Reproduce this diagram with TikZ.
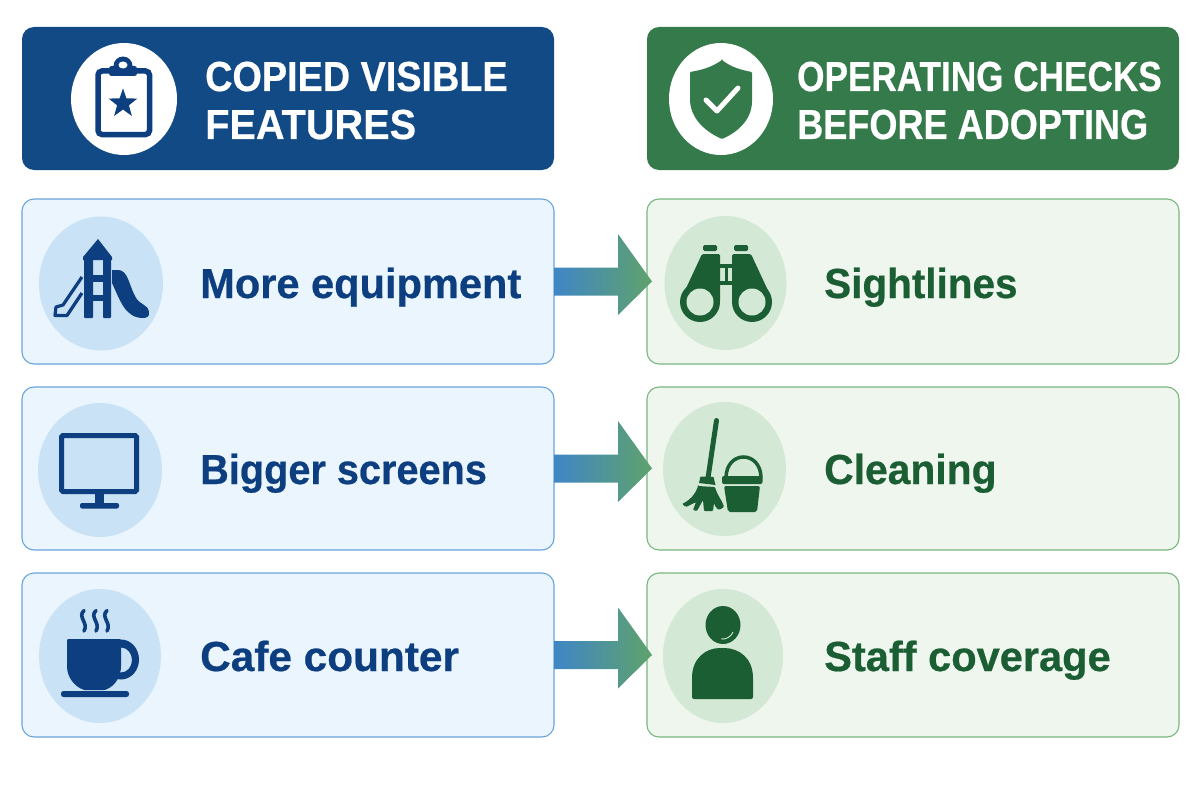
\documentclass[tikz,border=0pt]{standalone}
\usepackage{fontspec}
\setmainfont{Liberation Sans}[FakeStretch=0.9,BoldFeatures={FakeBold=0.5}]
\usetikzlibrary{calc}
\definecolor{hblue}{HTML}{124A86}
\definecolor{hgreen}{HTML}{357A4A}
\definecolor{rowblue}{HTML}{EBF5FD}
\definecolor{rowgreen}{HTML}{EEF6EE}
\definecolor{edgeblue}{HTML}{69A5DC}
\definecolor{edgegreen}{HTML}{79B67F}
\definecolor{discblue}{HTML}{C9E2F5}
\definecolor{discgreen}{HTML}{D3E8D5}
\definecolor{inkblue}{HTML}{0D3F80}
\definecolor{inkgreen}{HTML}{1C5E34}
\definecolor{arrowa}{HTML}{3F86C6}
\definecolor{arrowb}{HTML}{5FA26C}
\tikzset{
  panel/.style={rectangle,rounded corners=12pt,minimum width=532pt,inner sep=0pt,outer sep=0pt},
  headblue/.style={panel,fill=hblue,minimum height=143pt},
  headgreen/.style={panel,fill=hgreen,minimum height=143pt},
  rowa/.style={panel,fill=rowblue,draw=edgeblue,line width=1.1pt},
  rowb/.style={panel,fill=rowgreen,draw=edgegreen,line width=1.1pt},
  headtext/.style={anchor=base west,inner sep=0pt,text=white,font=\bfseries\fontsize{42}{42}\selectfont},
  labela/.style={anchor=base west,inner sep=0pt,text=inkblue,font=\bfseries\fontsize{42}{42}\selectfont},
  labelb/.style={anchor=base west,inner sep=0pt,text=inkgreen,font=\bfseries\fontsize{42}{42}\selectfont},
  flow/.style={left color=arrowa,right color=arrowb,shading angle=90},
}
\newcommand{\flowarrow}[2]{%
  \path[flow] ([yshift=14pt]#1.east) -- ++(64pt,0) -- ++(0,33.5pt)
    -- ($(#2.west)+(5pt,0)$) -- ($(#1.east)+(64pt,-33.5pt)$) -- ++(0,19.5pt) -- ([yshift=-14pt]#1.east) -- cycle;}
\begin{document}
\begin{tikzpicture}[x=1pt,y=-1pt]
\useasboundingbox (0,0) rectangle (1200,800);
\fill[white] (0,0) rectangle (1200,800);
% headers
\node[headblue] (h1) at (288,98.5) {};
\node[headgreen] (h2) at (913,98.5) {};
\fill[white] (124,99) ellipse [x radius=53,y radius=56];
\fill[white] (721,99) ellipse [x radius=52,y radius=56];
\node[headtext] (h1a) at (205,91) {COPIED VISIBLE};
\node[headtext,xscale=1.05] (h1b) at (205,139) {FEATURES};
\node[headtext,xscale=.93] (h2a) at (797,91) {OPERATING CHECKS};
\node[headtext,xscale=.955] (h2b) at (797,139) {BEFORE ADOPTING};
% rows
\node[rowa,minimum height=165pt] (a1) at (288,281.5) {};
\node[rowa,minimum height=163pt] (a2) at (288,468.5) {};
\node[rowa,minimum height=164pt] (a3) at (288,655) {};
\node[rowb,minimum height=165pt] (b1) at (913,281.5) {};
\node[rowb,minimum height=163pt] (b2) at (913,468.5) {};
\node[rowb,minimum height=164pt] (b3) at (913,655) {};
\fill[discblue] (101,283.5) ellipse [x radius=62,y radius=67];
\fill[discblue] (100,470) ellipse [x radius=62,y radius=67];
\fill[discblue] (100,656) ellipse [x radius=61,y radius=67];
\fill[discgreen] (725.5,283) ellipse [x radius=61,y radius=67];
\fill[discgreen] (724.5,469) ellipse [x radius=61.5,y radius=67];
\fill[discgreen] (723,656) ellipse [x radius=60,y radius=67];
\node[labela,xscale=1.10] (t1) at (200,298) {More equipment};
\node[labela,xscale=1.05] (t2) at (200,484) {Bigger screens};
\node[labela,xscale=1.12] (t3) at (200,671) {Cafe counter};
\node[labelb,xscale=1.07] (u1) at (824,298) {Sightlines};
\node[labelb,xscale=1.08] (u2) at (824,484) {Cleaning};
\node[labelb,xscale=1.10] (u3) at (824,671) {Staff coverage};
% connectors
\flowarrow{a1}{b1}
\flowarrow{a2}{b2}
\flowarrow{a3}{b3}
% clipboard
\draw[inkblue,line width=5.5pt,rounded corners=4pt] (98,71) rectangle (149.5,134.5);
\fill[inkblue,rounded corners=2.5pt] (109,76) -- (109,66) -- (137,66) -- (137,76) -- cycle;
\fill[inkblue] (123,66) circle [radius=9.5];
\fill[white] (123,65) ellipse [x radius=4.5,y radius=3.5];
\fill[inkblue] (123,88.5) -- (126.4,98.3) -- (137.3,98.6) -- (128.9,105.3) -- (131.9,116) -- (123,109.5) -- (114.1,116) -- (117.1,105.3) -- (108.7,98.6) -- (119.6,98.3) -- cycle;
% playground
\fill[inkblue] (83,257) -- (98,239) -- (112,257) -- (112,260) -- (83,260) -- cycle;
\fill[inkblue,rounded corners=1pt] (84,258) rectangle (93,318);
\fill[inkblue,rounded corners=1pt] (103,258) rectangle (111,318);
\fill[inkblue] (93,275) rectangle (103,282);
\fill[inkblue] (93,295) rectangle (103,301);
\fill[inkblue] (112,270) -- (118,270) .. controls (128,270) and (129,285) .. (135,296) .. controls (139,305) and (148,304) .. (149,312) .. controls (150,317) and (146,318) .. (143,318) .. controls (125,318) and (120,300) .. (112,283) -- cycle;
\draw[inkblue,line width=3.2pt,line join=round] (82,277) -- (63,305) -- (56,307) -- (55,315.5) -- (67,315.5) -- (82,293);
% monitor
\draw[inkblue,line width=5pt,rounded corners=1.5pt] (61.5,435.5) rectangle (136.5,491.5);
\fill[inkblue] (95,494) rectangle (104,504);
\fill[inkblue,rounded corners=2pt] (80,503) rectangle (119,508.5);
% cup
\fill[inkblue,even odd rule] (121,659.5) ellipse [x radius=18,y radius=20] (121,660) ellipse [x radius=11,y radius=12.5];
\fill[inkblue,rounded corners=1pt] (67,639) -- (67,665) .. controls (67,677) and (74,686) .. (84,690) -- (105,690) .. controls (115,686) and (121,677) .. (121,665) -- (121,639) -- cycle;
\fill[inkblue,rounded corners=2.5pt] (61,691) rectangle (129,697);
\foreach \sx in {83,95,106}
  \draw[inkblue,line width=3.6pt,line cap=round] (\sx+1,610.5) .. controls (\sx-6,617) and (\sx+6,623) .. (\sx+1,631);
% shield
\fill[hgreen,rounded corners=1pt] (722,60) .. controls (712,67) and (702,70) .. (690,72) -- (690,100) .. controls (691,118) and (704,131) .. (722,139) .. controls (740,131) and (752,118) .. (752,100) -- (752,72) .. controls (741,70) and (731,67) .. (722,60) -- cycle;
\draw[white,line width=5pt,line cap=round,line join=round] (706,100) -- (717,111) -- (738,88);
% binoculars
\fill[inkgreen,rounded corners=1.5pt] (703,245) rectangle (717,251);
\fill[inkgreen,rounded corners=1.5pt] (734,245) rectangle (748,251);
\fill[inkgreen,rounded corners=1.5pt] (702,254) -- (720,254) -- (720,302) -- (682,302) -- (682,297) -- cycle;
\fill[inkgreen,rounded corners=1.5pt] (732,254) -- (751,254) -- (771,297) -- (771,302) -- (732,302) -- cycle;
\fill[inkgreen] (720,264) rectangle (732,268);
\fill[inkgreen] (720,281) rectangle (732,285);
\fill[inkgreen] (724.5,264) rectangle (727.5,285);
\fill[inkgreen] (700,302) circle [radius=20];
\fill[inkgreen] (752,302) circle [radius=20];
\fill[discgreen] (700,302) circle [radius=13.5];
\fill[discgreen] (752,302) circle [radius=13.5];
% broom
\draw[inkgreen,line width=5pt,line cap=round] (716.5,420.5) -- (708,478);
\fill[inkgreen] (700.5,476.5) -- (713.5,477) -- (715.5,485) -- (699,483) -- cycle;
\fill[inkgreen,rounded corners=1pt] (698,486) -- (715,487)
  .. controls (718,497) and (722,500) .. (724,507) -- (719,510) .. controls (716,508) and (715,506) .. (714,503)
  -- (713,511) -- (704,511) -- (703,500) -- (697,511) -- (693,510) -- (696,502) -- (686,507) -- (682,504)
  .. controls (690,500) and (695,495) .. (698,486) -- cycle;
% bucket
\draw[inkgreen,line width=3.5pt] (726,478) .. controls (726,450) and (761,450) .. (761,478);
\fill[inkgreen,rounded corners=2pt] (722,476) rectangle (762.5,484);
\fill[inkgreen,rounded corners=2pt] (724,486) -- (760,486) -- (757,512) -- (728,512) -- cycle;
% person
\fill[inkgreen] (723,625) ellipse [x radius=17.5,y radius=19];
\draw[discgreen,line width=.9pt] (721,639) .. controls (726,639.5) and (731,637) .. (733,632);
\fill[inkgreen,rounded corners=2pt] (692,699) -- (692,680) .. controls (692,658) and (706,648) .. (722,648) .. controls (739,648) and (753,658) .. (753,680) -- (753,699) -- cycle;
\end{tikzpicture}
\end{document}
